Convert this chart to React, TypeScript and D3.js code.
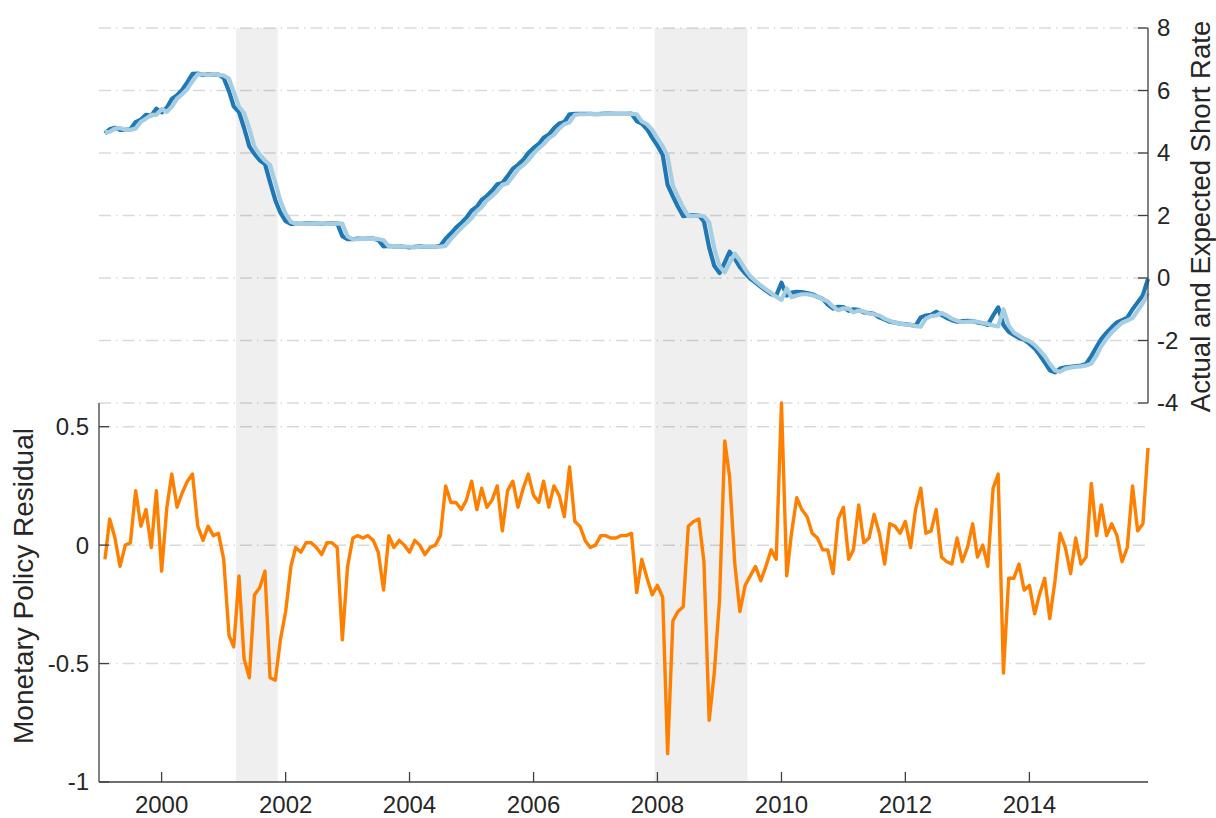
import React from "react";
import * as d3 from "d3";

// ---- Data (monthly, first value = Jan 1999, plotted at month end) ----
const actualRate: number[] = [
  4.63, 4.76, 4.81, 4.74, 4.74, 4.76, 4.99, 5.07, 5.22, 5.2, 5.42, 5.3,
  5.45, 5.73, 5.85, 6.02, 6.27, 6.53, 6.54, 6.5, 6.52, 6.51, 6.51, 6.4,
  5.98, 5.49, 5.31, 4.8, 4.21, 3.97, 3.77, 3.65, 3.07, 2.49, 2.09, 1.82,
  1.73, 1.74, 1.73, 1.75, 1.75, 1.75, 1.73, 1.74, 1.75, 1.75, 1.34, 1.24,
  1.24, 1.26, 1.25, 1.26, 1.26, 1.22, 1.01, 1.03, 1.01, 1.01, 1.0, 0.98,
  1.0, 1.01, 1.0, 1.0, 1.0, 1.03, 1.26, 1.43, 1.61, 1.76, 1.93, 2.16,
  2.28, 2.5, 2.63, 2.79, 3.0, 3.04, 3.26, 3.5, 3.62, 3.78, 4.0, 4.16,
  4.29, 4.49, 4.59, 4.79, 4.94, 4.99, 5.24, 5.25, 5.25, 5.25, 5.25, 5.24,
  5.25, 5.26, 5.26, 5.25, 5.25, 5.25, 5.26, 5.02, 4.94, 4.76, 4.49, 4.24,
  3.94, 2.98, 2.61, 2.28, 1.98, 2.0, 2.01, 2.0, 1.81, 0.97, 0.39, 0.16,
  0.5, 0.84, 0.62, 0.35, 0.15, -0.02, -0.15, -0.28, -0.4, -0.52, -0.56, -0.15,
  -0.56, -0.47, -0.44, -0.45, -0.48, -0.52, -0.6, -0.67, -0.85, -0.98, -0.92, -0.93,
  -1.05, -1.0, -1.02, -1.1, -1.12, -1.15, -1.26, -1.33, -1.4, -1.43, -1.46, -1.48,
  -1.5, -1.53, -1.26, -1.2, -1.18, -1.08, -1.18, -1.28, -1.35, -1.4, -1.38, -1.37,
  -1.38, -1.42, -1.45, -1.5, -1.2, -0.94, -1.5, -1.72, -1.82, -1.92, -1.98, -2.1,
  -2.25, -2.45, -2.7, -2.95, -3.02, -2.9, -2.86, -2.84, -2.82, -2.8, -2.75, -2.5,
  -2.2, -1.95, -1.75, -1.58, -1.42, -1.35, -1.27, -1.0, -0.78, -0.55, -0.03,
];

const expectedRate: number[] = [
  4.66, 4.68, 4.78, 4.8, 4.74, 4.74, 4.78, 5.0, 5.1, 5.22, 5.22, 5.4,
  5.32, 5.48, 5.74, 5.88, 6.05, 6.3, 6.52, 6.52, 6.5, 6.52, 6.5, 6.48,
  6.38, 5.95, 5.48, 5.28, 4.78, 4.2, 3.95, 3.76, 3.62, 3.05, 2.47, 2.06,
  1.8, 1.73, 1.74, 1.73, 1.74, 1.75, 1.74, 1.73, 1.74, 1.75, 1.74, 1.33,
  1.24, 1.24, 1.26, 1.25, 1.25, 1.25, 1.21, 1.01, 1.02, 1.01, 1.0, 1.0,
  0.98, 1.0, 1.0, 1.0, 1.0, 1.0, 1.03, 1.25, 1.42, 1.6, 1.75, 1.92,
  2.14, 2.27, 2.48, 2.62, 2.78, 2.98, 3.03, 3.25, 3.48, 3.61, 3.77, 3.98,
  4.15, 4.28, 4.47, 4.58, 4.78, 4.92, 4.98, 5.22, 5.24, 5.24, 5.25, 5.25,
  5.24, 5.25, 5.25, 5.26, 5.25, 5.25, 5.25, 5.24, 5.01, 4.92, 4.74, 4.47,
  4.22, 3.9, 2.96, 2.6, 2.26, 1.98, 1.99, 2.0, 1.98, 1.78, 0.95, 0.37,
  0.18, 0.48, 0.78, 0.56, 0.28, 0.06, -0.1, -0.24, -0.36, -0.48, -0.6, -0.7,
  -0.33, -0.62, -0.56, -0.52, -0.52, -0.55, -0.6, -0.68, -0.75, -0.92, -1.03, -0.97,
  -0.98, -1.1, -1.04, -1.07, -1.14, -1.16, -1.2, -1.3, -1.37, -1.43, -1.46, -1.49,
  -1.5, -1.54, -1.56, -1.3, -1.22, -1.2, -1.12, -1.2, -1.3, -1.37, -1.41, -1.4,
  -1.39, -1.4, -1.44, -1.47, -1.52, -1.55, -1.0, -1.52, -1.74, -1.85, -1.95, -2.02,
  -2.14, -2.3, -2.5, -2.74, -2.96, -3.0, -2.9, -2.87, -2.84, -2.83, -2.8, -2.74,
  -2.48, -2.18, -1.94, -1.74, -1.58, -1.43, -1.36, -1.28, -1.05, -0.8, -0.48,
];

const residual: number[] = [
  -0.06, 0.11, 0.03, -0.09, 0.0, 0.01, 0.23, 0.08, 0.15, -0.01, 0.23, -0.11,
  0.16, 0.3, 0.16, 0.22, 0.27, 0.3, 0.08, 0.02, 0.08, 0.04, 0.05, -0.06,
  -0.38, -0.43, -0.13, -0.48, -0.56, -0.21, -0.18, -0.11, -0.56, -0.57, -0.4, -0.28,
  -0.09, -0.01, -0.03, 0.01, 0.01, -0.01, -0.04, 0.01, 0.01, -0.01, -0.4, -0.09,
  0.03, 0.04, 0.03, 0.04, 0.02, -0.03, -0.19, 0.04, -0.01, 0.02, 0.0, -0.03,
  0.02, 0.0, -0.04, -0.01, 0.0, 0.04, 0.25, 0.18, 0.18, 0.15, 0.19, 0.27,
  0.15, 0.24, 0.16, 0.19, 0.25, 0.06, 0.23, 0.27, 0.16, 0.24, 0.3, 0.21,
  0.18, 0.27, 0.16, 0.25, 0.21, 0.12, 0.33, 0.1, 0.08, 0.02, -0.01, 0.0,
  0.04, 0.04, 0.03, 0.03, 0.04, 0.04, 0.05, -0.2, -0.06, -0.14, -0.21, -0.17,
  -0.22, -0.88, -0.32, -0.28, -0.26, 0.08, 0.1, 0.11, -0.07, -0.74, -0.54, -0.23,
  0.44, 0.29, -0.08, -0.28, -0.17, -0.13, -0.09, -0.15, -0.09, -0.02, -0.06, 0.6,
  -0.13, 0.05, 0.2, 0.15, 0.12, 0.05, 0.03, -0.02, -0.02, -0.12, 0.11, 0.16,
  -0.06, -0.02, 0.17, 0.01, 0.03, 0.13, 0.05, -0.08, 0.09, 0.08, 0.05, 0.1,
  -0.01, 0.15, 0.24, 0.05, 0.06, 0.15, -0.05, -0.07, -0.08, 0.03, -0.07, -0.01,
  0.09, -0.05, 0.0, -0.09, 0.24, 0.3, -0.54, -0.14, -0.14, -0.08, -0.19, -0.17,
  -0.29, -0.21, -0.14, -0.31, -0.15, 0.05, -0.01, -0.12, 0.03, -0.08, -0.05, 0.26,
  0.04, 0.17, 0.04, 0.09, 0.04, -0.07, -0.01, 0.25, 0.06, 0.09, 0.41,
];

const recessions: [string, string][] = [
  ["2001-03-15", "2001-11-15"],
  ["2007-12-15", "2009-06-15"],
];

const xTickYears: number[] = [2000, 2002, 2004, 2006, 2008, 2010, 2012, 2014];
const topTicks: number[] = [-4, -2, 0, 2, 4, 6, 8];
const bottomTicks: number[] = [-1, -0.5, 0, 0.5];
const bottomTickLabels: string[] = ["-1", "-0.5", "0", "0.5"];

const topLabel = "Actual and Expected Short Rate";
const bottomLabel = "Monetary Policy Residual";

// ---- Layout ----
const W = 1216;
const H = 818;
const L = 99;
const R = 1148;
const TOP_Y0 = 28;
const MID_Y = 403;
const BOT_Y1 = 782;

const FONT = "'Liberation Sans', Arial, Helvetica, sans-serif";
const TEXT = "#262626";
const AXIS = "#404040";

function parseDate(s: string): Date {
  const [y, m, d] = s.split("-").map(Number);
  return new Date(y, m - 1, d);
}

export default function App() {
  const x = d3
    .scaleTime()
    .domain([new Date(1998, 11, 28), new Date(2015, 11, 1)])
    .range([L, R]);
  const yTop = d3.scaleLinear().domain([-4, 8]).range([MID_Y, TOP_Y0]);
  const yBot = d3.scaleLinear().domain([-1, 0.6]).range([BOT_Y1, MID_Y]);

  // observation i is Jan 1999 + i months, plotted at the month's end
  const dateOf = (i: number) => new Date(1999, 1 + i, 1);

  const lineTop = d3
    .line<number>()
    .x((_, i) => x(dateOf(i)))
    .y((d) => yTop(d));
  const lineBot = d3
    .line<number>()
    .x((_, i) => x(dateOf(i)))
    .y((d) => yBot(d));

  const gridStyle = {
    stroke: "#000",
    strokeOpacity: 0.15,
    strokeWidth: 1.5,
    strokeDasharray: "12,5,1.5,5",
  };

  const tickLen = 10;

  return (
    <svg
      width={W}
      height={H}
      style={{ position: "absolute", left: 0, top: 0, display: "block", background: "#fff" }}
      fontFamily={FONT}
    >
      <rect x={0} y={0} width={W} height={H} fill="#fff" />
      {/* recession shading */}
      {recessions.map(([a, b], k) => (
        <rect
          key={"rec" + k}
          x={x(parseDate(a))}
          y={TOP_Y0}
          width={x(parseDate(b)) - x(parseDate(a))}
          height={BOT_Y1 - TOP_Y0}
          fill="#efefef"
        />
      ))}

      {/* grid lines top */}
      {topTicks.map((t) => (
        <line key={"gt" + t} x1={L} x2={R} y1={yTop(t)} y2={yTop(t)} {...gridStyle} />
      ))}
      {/* grid lines bottom */}
      {bottomTicks
        .filter((t) => t > -1)
        .map((t) => (
          <line key={"gb" + t} x1={L} x2={R} y1={yBot(t)} y2={yBot(t)} {...gridStyle} />
        ))}

      {/* top series */}
      <path
        d={lineTop(actualRate) || ""}
        fill="none"
        stroke="#1f78b4"
        strokeWidth={4.2}
        strokeLinejoin="round"
      />
      <path
        d={lineTop(expectedRate) || ""}
        fill="none"
        stroke="#a6cee3"
        strokeWidth={4.2}
        strokeLinejoin="round"
      />

      {/* bottom series */}
      <path
        d={lineBot(residual) || ""}
        fill="none"
        stroke="#ff7f00"
        strokeWidth={3.4}
        strokeLinejoin="round"
      />

      {/* right axis (top panel) */}
      <line x1={R} x2={R} y1={TOP_Y0} y2={MID_Y} stroke={AXIS} strokeWidth={1.3} />
      {topTicks.map((t) => (
        <g key={"rt" + t}>
          <line x1={R - tickLen} x2={R} y1={yTop(t)} y2={yTop(t)} stroke={AXIS} strokeWidth={1.3} />
          <text
            x={1157}
            y={yTop(t)}
            dy="0.35em"
            fontSize={24}
            fill={TEXT}
            textAnchor="start"
          >
            {String(t)}
          </text>
        </g>
      ))}
      <text
        transform={`translate(1210, ${(TOP_Y0 + MID_Y) / 2 + 1}) rotate(-90)`}
        textAnchor="middle"
        fontSize={27.5}
        fill={TEXT}
      >
        {topLabel}
      </text>

      {/* left axis (bottom panel) */}
      <line x1={L} x2={L} y1={MID_Y} y2={BOT_Y1} stroke={AXIS} strokeWidth={1.3} />
      {bottomTicks.map((t, k) => (
        <g key={"lt" + t}>
          <line x1={L} x2={L + tickLen} y1={yBot(t)} y2={yBot(t)} stroke={AXIS} strokeWidth={1.3} />
          <text x={89} y={yBot(t)} dy="0.35em" fontSize={24} fill={TEXT} textAnchor="end">
            {bottomTickLabels[k]}
          </text>
        </g>
      ))}
      <text
        transform={`translate(33, 586) rotate(-90)`}
        textAnchor="middle"
        fontSize={28}
        fill={TEXT}
      >
        {bottomLabel}
      </text>

      {/* bottom x axis */}
      <line x1={L} x2={R} y1={BOT_Y1} y2={BOT_Y1} stroke={AXIS} strokeWidth={1.3} />
      {xTickYears.map((yr) => {
        const px = x(new Date(yr, 0, 1));
        return (
          <g key={"xt" + yr}>
            <line x1={px} x2={px} y1={BOT_Y1} y2={BOT_Y1 - tickLen} stroke={AXIS} strokeWidth={1.3} />
            <text x={px} y={813} fontSize={24} fill={TEXT} textAnchor="middle">
              {String(yr)}
            </text>
          </g>
        );
      })}
    </svg>
  );
}
